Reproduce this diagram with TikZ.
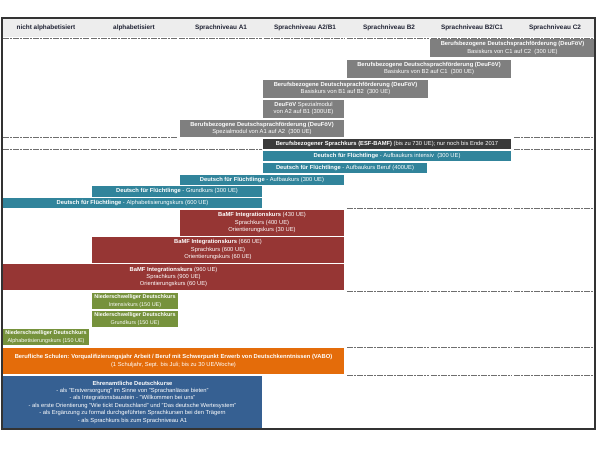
\documentclass[tikz,border=0pt]{standalone}
\usepackage{fontspec}
\setmainfont{Liberation Sans}
\usepackage{xcolor}
\usepackage{tikz}

\definecolor{headfill}{HTML}{EDEDED}
\definecolor{headtext}{HTML}{1F2233}
\definecolor{framegrey}{HTML}{333333}
\definecolor{linegrey}{HTML}{6E6E6E}
\definecolor{deufoevgrey}{HTML}{7F7F7F}
\definecolor{esfdark}{HTML}{3A3A3A}
\definecolor{dffteal}{HTML}{31849B}
\definecolor{bamfred}{HTML}{963634}
\definecolor{nsgreen}{HTML}{76923C}
\definecolor{vaboorange}{HTML}{E46C0A}
\definecolor{ehrenblue}{HTML}{366092}

\begin{document}
\begin{tikzpicture}[
    x=1pt, y=-1pt,
    heading/.style={font=\fontsize{6.4}{7.5}\selectfont\bfseries, text=headtext, inner sep=0pt},
    course/.style={text=white, inner sep=0pt, align=center, font=\fontsize{5.8}{7.4}\selectfont},
    deufoev/.style={course, fill=deufoevgrey},
    esf/.style={course, fill=esfdark},
    dff/.style={course, fill=dffteal, minimum height=10.5},
    bamf/.style={course, fill=bamfred, minimum height=25.5},
    nsdk/.style={course, fill=nsgreen, minimum width=86, minimum height=16, font=\fontsize{5.45}{7.2}\selectfont},
    vabo/.style={course, fill=vaboorange},
    ehrenamt/.style={course, fill=ehrenblue},
    rowline/.style={draw=linegrey, line width=0.9pt, dash pattern=on 6pt off 1pt on 2pt off 1pt}
]
\useasboundingbox (0,0) rectangle (597,450);
\fill[white] (0,0) rectangle (597,450);

% header
\fill[headfill] (2,18) rectangle (595,37);
\node[heading] (hnalpha) at (46,28) {nicht alphabetisiert};
\node[heading] (halpha) at (134,28) {alphabetisiert};
\node[heading] (hA1) at (221,28) {Sprachniveau A1};
\node[heading] (hA2B1) at (305,28) {Sprachniveau A2/B1};
\node[heading] (hB2) at (389,28) {Sprachniveau B2};
\node[heading] (hB2C1) at (472,28) {Sprachniveau B2/C1};
\node[heading] (hC2) at (555,28) {Sprachniveau C2};

% row separators
\foreach \xa/\xb in {3/89,91/177,179/262,264/345,347/429,431/512,514/595}
    \draw[rowline] (\xa,38) -- (\xb,38);
\foreach \xa/\xb in {3/89,91/177,514/595}
    \draw[rowline] (\xa,137.5) -- (\xb,137.5);
\foreach \xa/\xb in {3/89,91/177,179/262,514/595}
    \draw[rowline] (\xa,149) -- (\xb,149);
\foreach \yy in {208.5,291,347,375}
    \foreach \xa/\xb in {347/429,431/512,514/595}
        \draw[rowline] (\xa,\yy) -- (\xb,\yy);

% DeuFoeV
\node[deufoev, minimum width=165, minimum height=18] (c1c2) at (512.5,48)
    {\textbf{Berufsbezogene Deutschsprachförderung (DeuFöV)}\\Basiskurs von C1 auf C2~~(300 UE)};
\node[deufoev, minimum width=164, minimum height=17.5] (b2c1) at (429,68.75)
    {\textbf{Berufsbezogene Deutschsprachförderung (DeuFöV)}\\Basiskurs von B2 auf C1~~(300 UE)};
\node[deufoev, minimum width=165, minimum height=17.5] (b1b2) at (345.5,88.75)
    {\textbf{Berufsbezogene Deutschsprachförderung (DeuFöV)}\\Basiskurs von B1 auf B2~~(300 UE)};
\node[deufoev, minimum width=81, minimum height=17.5] (a2b1) at (303.5,108.75)
    {\textbf{DeuFöV} Spezialmodul\\von A2 auf B1 (300UE)};
\node[deufoev, minimum width=164, minimum height=17.5] (a1a2) at (262,128.25)
    {\textbf{Berufsbezogene Deutschsprachförderung (DeuFöV)}\\Spezialmodul von A1 auf A2~~(300 UE)};

% ESF-BAMF
\node[esf, minimum width=248, minimum height=9.5] (esfbamf) at (387,143.75)
    {\textbf{Berufsbezogener Sprachkurs (ESF-BAMF)} (bis zu 730 UE); nur noch bis Ende 2017};

% Deutsch fuer Fluechtlinge
\node[dff, minimum width=248] (dffintensiv) at (387,155.75)
    {\textbf{Deutsch für Flüchtlinge} - Aufbaukurs intensiv~~(300 UE)};
\node[dff, minimum width=164] (dffberuf) at (345,167.75)
    {\textbf{Deutsch für Flüchtlinge} - Aufbaukurs Beruf (400UE)};
\node[dff, minimum width=164] (dffaufbau) at (262,179.75)
    {\textbf{Deutsch für Flüchtlinge} - Aufbaukurs (300 UE)};
\node[dff, minimum width=170] (dffgrund) at (177,191.5)
    {\textbf{Deutsch für Flüchtlinge} - Grundkurs (300 UE)};
\node[dff, minimum width=259] (dffalpha) at (132.5,202.75)
    {\textbf{Deutsch für Flüchtlinge} - Alphabetisierungskurs (600 UE)};

% BaMF Integrationskurse
\node[bamf, minimum width=164] (ik430) at (262,222.75)
    {\textbf{BaMF Integrationskurs} (430 UE)\\Sprachkurs (400 UE)\\Orientierungskurs (30 UE)};
\node[bamf, minimum width=252] (ik660) at (218,249.75)
    {\textbf{BaMF Integrationskurs} (660 UE)\\Sprachkurs (600 UE)\\Orientierungskurs (60 UE)};
\node[bamf, minimum width=341, minimum height=26] (ik960) at (173.5,277)
    {\textbf{BaMF Integrationskurs} (960 UE)\\Sprachkurs (900 UE)\\Orientierungskurs (60 UE)};

% Niederschwellige Deutschkurse
\node[nsdk] (nsintensiv) at (135,301)
    {\textbf{Niederschwelliger Deutschkurs}\\Intensivkurs (150 UE)};
\node[nsdk] (nsgrund) at (135,319)
    {\textbf{Niederschwelliger Deutschkurs}\\Grundkurs (150 UE)};
\node[nsdk] (nsalpha) at (46,337)
    {\textbf{Niederschwelliger Deutschkurs}\\Alphabetisierungskurs (150 UE)};

% VABO
\node[vabo, minimum width=341, minimum height=26] (vabokurs) at (173.5,361)
    {\textbf{Berufliche Schulen: Vorqualifizierungsjahr Arbeit / Beruf mit Schwerpunkt Erwerb von Deutschkenntnissen (VABO)}\\(1 Schuljahr, Sept. bis Juli; bis zu 30 UE/Woche)};

% Ehrenamt
\node[ehrenamt, minimum width=259, minimum height=52] (ehrenkurs) at (132.5,402)
    {\textbf{Ehrenamtliche Deutschkurse}\\
     - als "Erstversorgung" im Sinne von "Sprachanlässe bieten"\\
     - als Integrationsbaustein - "Willkommen bei uns"\\
     - als erste Orientierung "Wie tickt Deutschland" und "Das deutsche Wertesystem"\\
     - als Ergänzung zu formal durchgeführten Sprachkursen bei den Trägern\\
     - als Sprachkurs bis zum Sprachniveau A1};

% frame
\draw[framegrey, line width=1.5pt] (2,18) rectangle (595,429);
\end{tikzpicture}
\end{document}
